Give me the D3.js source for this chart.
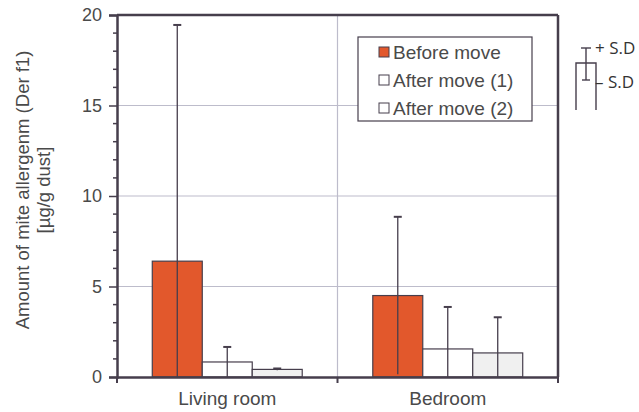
<!DOCTYPE html>
<html>
<head>
<meta charset="utf-8">
<script src="https://cdn.jsdelivr.net/npm/d3@7/dist/d3.min.js"></script>
<style>
  html, body { margin: 0; padding: 0; background: #fff; }
  svg { display: block; }
  text { font-family: "Liberation Sans", Arial, sans-serif; }
</style>
</head>
<body>
<svg id="chart" width="639" height="412"></svg>
<script>
// Rooms and measurement rounds
const categories = ["Living room", "Bedroom"];
const series = ["Before move", "After move (1)", "After move (2)"];

// Mean Der f1 concentration [µg/g dust] per room, one array per round
const beforeMean = [6.4, 4.5];
const after1Mean = [0.83, 1.55];
const after2Mean = [0.42, 1.33];

// Standard deviations
const beforeSD = [13.05, 4.35];
const after1SD = [0.83, 2.32];
const after2SD = [0.05, 1.97];

const yTicks = [0, 5, 10, 15, 20];

const means = [beforeMean, after1Mean, after2Mean];
const sds = [beforeSD, after1SD, after2SD];
const fills = ["#e2582c", "#ffffff", "#f0f0f0"];

const ink = "#463e4c";
const grid = "#bdbccb";
const textCol = "#4a4a4a";

const svg = d3.select("#chart");
const m = { left: 117, right: 558, top: 15, bottom: 377 };

const y = d3.scaleLinear().domain([0, 20]).range([m.bottom, m.top]);
const x = d3.scaleBand().domain(categories).range([m.left, m.right]);
const groupW = x.bandwidth() * 0.68;
const xs = d3.scaleBand().domain(series).range([0, groupW]);

// gridlines
svg.append("g").selectAll("line").data(yTicks.filter(t => t > 0 && t < 20)).join("line")
  .attr("x1", m.left).attr("x2", m.right)
  .attr("y1", d => y(d)).attr("y2", d => y(d))
  .attr("stroke", grid).attr("stroke-width", 1.2);
svg.append("line")
  .attr("x1", x(categories[1])).attr("x2", x(categories[1]))
  .attr("y1", m.top).attr("y2", m.bottom)
  .attr("stroke", grid).attr("stroke-width", 1.2);

// bars
const rows = [];
categories.forEach((c, ci) => series.forEach((s, si) => {
  rows.push({ c, s, si, v: means[si][ci], sd: sds[si][ci] });
}));
const gx = c => x(c) + (x.bandwidth() - groupW) / 2;

svg.append("g").selectAll("rect").data(rows).join("rect")
  .attr("x", d => gx(d.c) + xs(d.s))
  .attr("y", d => y(d.v))
  .attr("width", xs.bandwidth())
  .attr("height", d => y(0) - y(d.v))
  .attr("fill", d => fills[d.si])
  .attr("stroke", ink).attr("stroke-width", 1.2);

// error bars (+SD cap; lower end clipped at zero)
const eb = svg.append("g").attr("stroke", ink).attr("stroke-width", 1.3);
rows.forEach(d => {
  const cx = gx(d.c) + xs(d.s) + xs.bandwidth() / 2;
  eb.append("line").attr("x1", cx).attr("x2", cx)
    .attr("y1", y(Math.max(0, d.v - d.sd))).attr("y2", y(d.v + d.sd));
  eb.append("line").attr("x1", cx - 4).attr("x2", cx + 4)
    .attr("y1", y(d.v + d.sd)).attr("y2", y(d.v + d.sd)).attr("stroke-width", 2);
});

// frame: top and right borders
svg.append("line").attr("x1", m.left).attr("x2", m.right).attr("y1", m.top).attr("y2", m.top)
  .attr("stroke", ink).attr("stroke-width", 2.5);
svg.append("line").attr("x1", m.right).attr("x2", m.right).attr("y1", m.top).attr("y2", m.bottom)
  .attr("stroke", ink).attr("stroke-width", 2.5);

// y axis
const yAxis = svg.append("g").attr("transform", `translate(${m.left},0)`)
  .call(d3.axisLeft(y).tickValues(yTicks).tickSize(8).tickPadding(7));
yAxis.select(".domain").attr("stroke", ink).attr("stroke-width", 2.5);
yAxis.selectAll(".tick line").attr("stroke", ink).attr("stroke-width", 1.5);
yAxis.selectAll(".tick text").attr("fill", textCol).style("font-size", "18px")
  .style("font-family", "Liberation Sans, Arial, sans-serif");
// minor ticks
svg.append("g").selectAll("line").data(d3.range(1, 20).filter(v => v % 5 !== 0)).join("line")
  .attr("x1", m.left - 4).attr("x2", m.left + 1)
  .attr("y1", d => y(d)).attr("y2", d => y(d))
  .attr("stroke", ink).attr("stroke-width", 1.5);

// x axis
const xAxis = svg.append("g").attr("transform", `translate(0,${m.bottom})`)
  .call(d3.axisBottom(x).tickSize(0).tickPadding(15));
xAxis.select(".domain").attr("stroke", ink).attr("stroke-width", 2.5);
xAxis.selectAll(".tick text").attr("fill", textCol).style("font-size", "19px")
  .style("font-family", "Liberation Sans, Arial, sans-serif");
svg.append("g").selectAll("line").data([m.left, x(categories[1]), m.right]).join("line")
  .attr("x1", d => d).attr("x2", d => d)
  .attr("y1", m.bottom).attr("y2", m.bottom + 6)
  .attr("stroke", ink).attr("stroke-width", 2);

// y title
const yt = svg.append("text").attr("transform", "translate(29,190) rotate(-90)")
  .attr("text-anchor", "middle").attr("fill", textCol).style("font-size", "18.5px");
yt.append("tspan").attr("x", 0).attr("dy", 0).text("Amount of mite allergenm (Der f1)");
yt.append("tspan").attr("x", 0).attr("dy", 21).text("[µg/g dust]");

// legend
const lg = svg.append("g").attr("transform", "translate(358,37)");
lg.append("rect").attr("width", 174).attr("height", 84)
  .attr("fill", "#fff").attr("stroke", ink).attr("stroke-width", 1.2);
series.forEach((s, i) => {
  const r = lg.append("g").attr("transform", `translate(21,${15 + i * 28})`);
  r.append("rect").attr("x", 0).attr("y", -5).attr("width", 10).attr("height", 10)
    .attr("fill", fills[i] === "#f0f0f0" ? "#fff" : fills[i])
    .attr("stroke", ink).attr("stroke-width", 1);
  r.append("text").attr("x", 14).attr("y", 7).attr("fill", textCol)
    .style("font-size", "19px").text(s);
});

// SD key
const key = svg.append("g").attr("stroke", ink).attr("stroke-width", 1.4).attr("fill", "none");
key.append("path").attr("d", "M576,110 V63 H596 V110");
key.append("line").attr("x1", 586).attr("x2", 586).attr("y1", 48).attr("y2", 80);
key.append("line").attr("x1", 581).attr("x2", 591).attr("y1", 48).attr("y2", 48);
key.append("line").attr("x1", 582).attr("x2", 590).attr("y1", 80).attr("y2", 80);
svg.append("text").attr("x", 595).attr("y", 54).attr("fill", "#333")
  .style("font-family", "'Open Sans', sans-serif").style("font-size", "17px").text("+ S.D");
svg.append("text").attr("x", 595).attr("y", 88).attr("fill", "#333")
  .style("font-family", "'Open Sans', sans-serif").style("font-size", "17px").text("– S.D");
</script>
</body>
</html>
